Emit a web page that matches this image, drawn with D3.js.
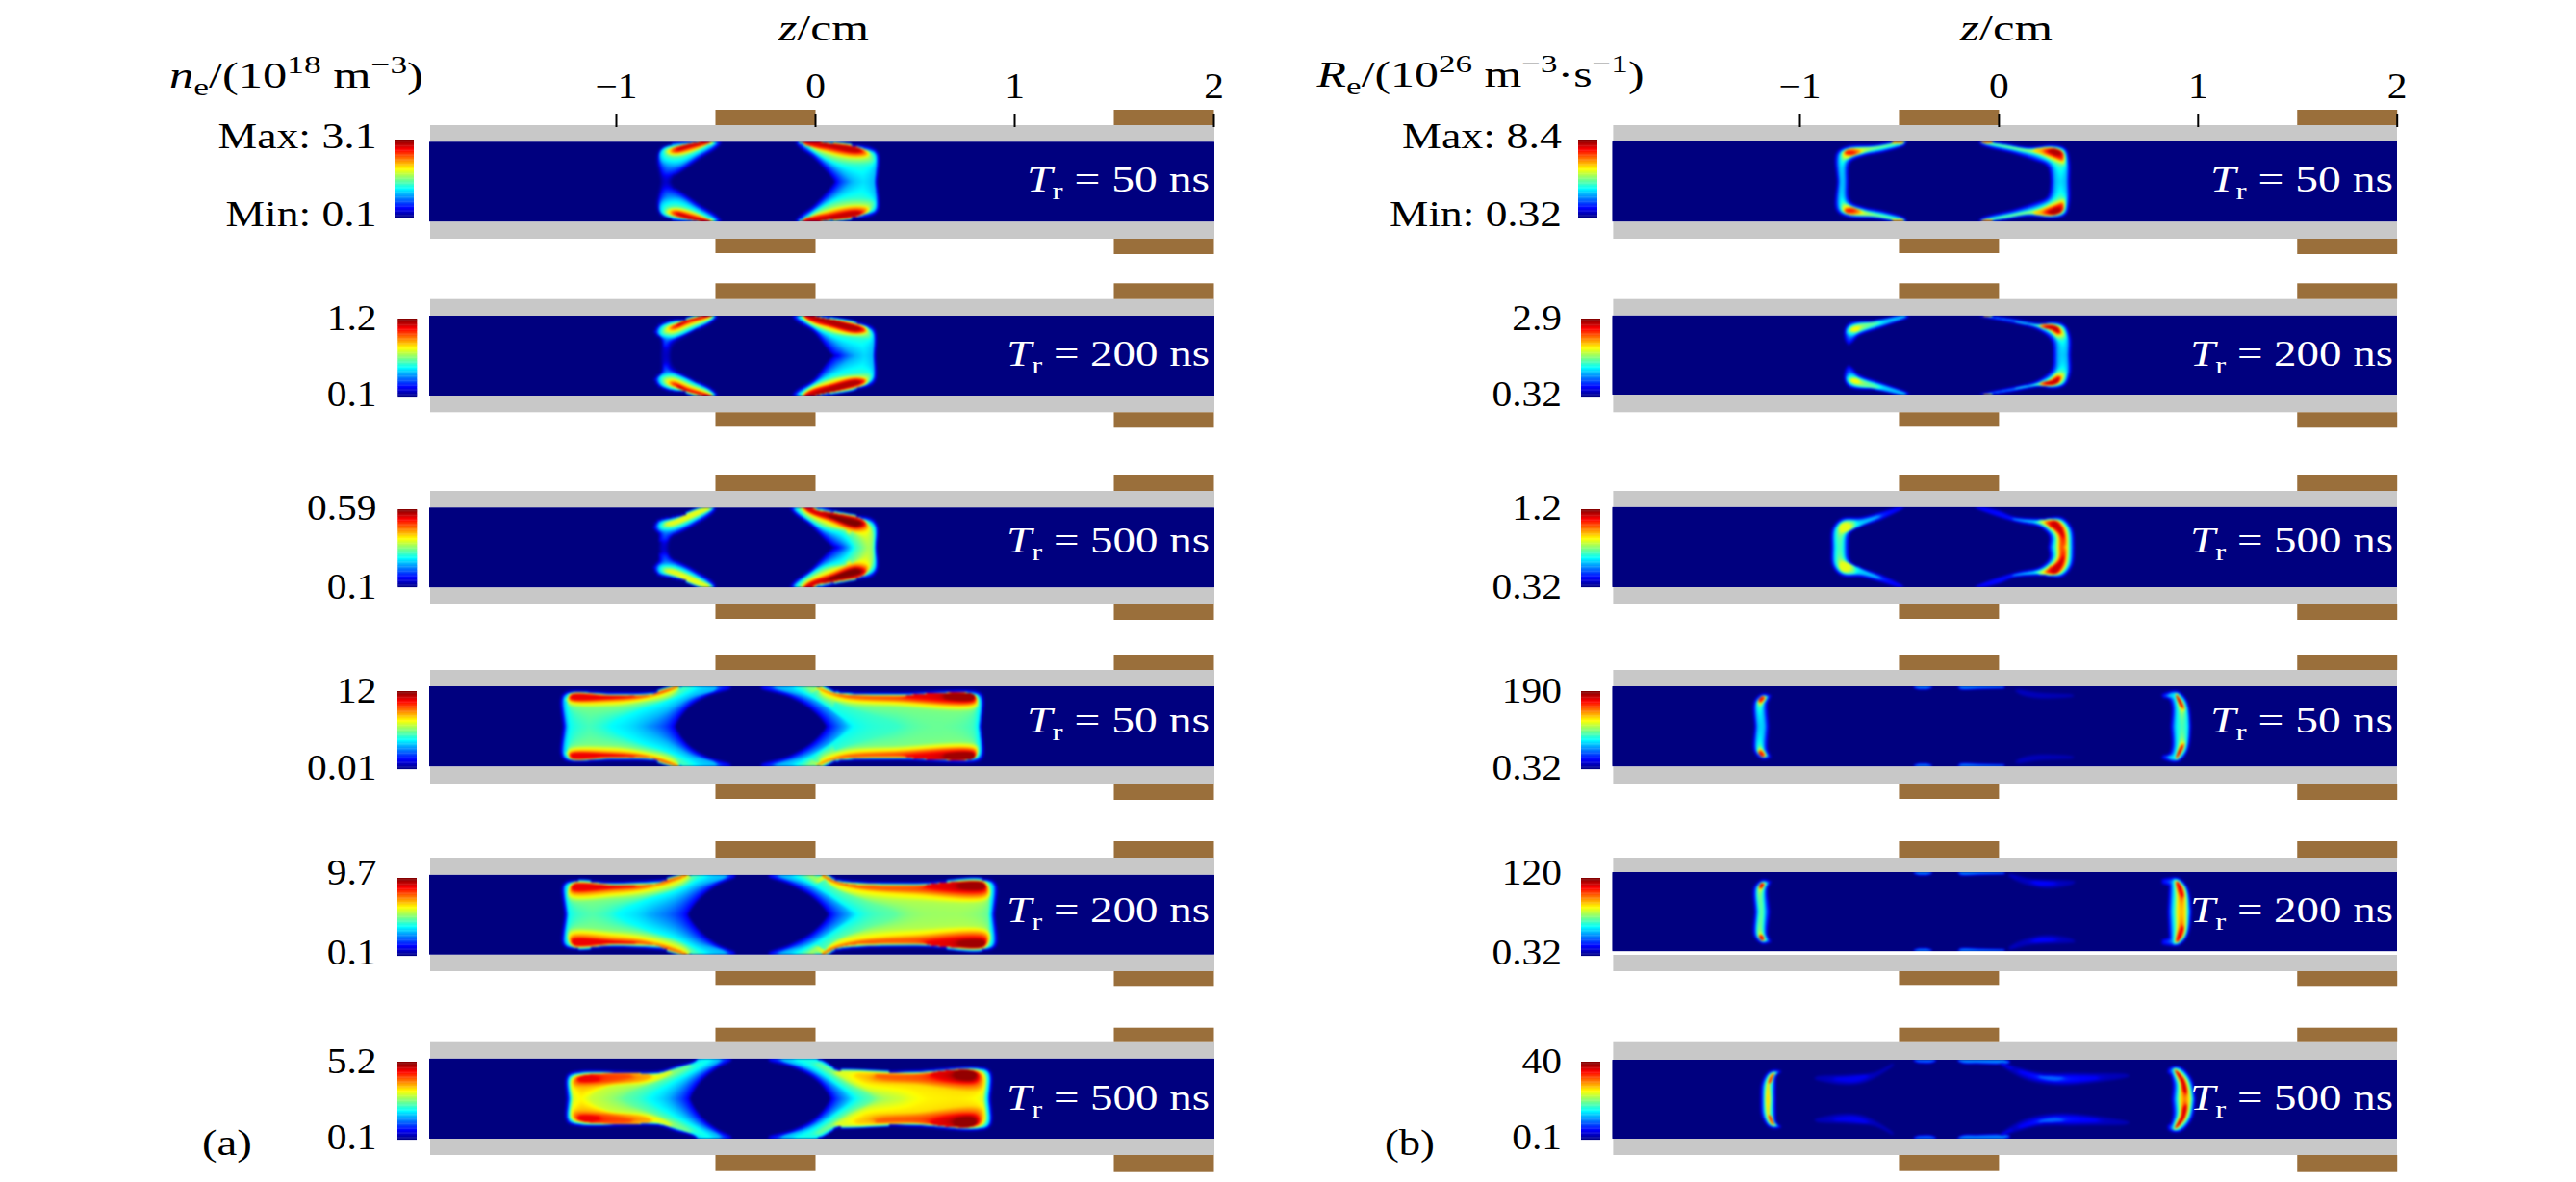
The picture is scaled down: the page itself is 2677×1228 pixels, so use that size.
<!DOCTYPE html>
<html><head><meta charset="utf-8">
<script src="https://cdnjs.cloudflare.com/ajax/libs/d3/7.8.5/d3.min.js"></script>
<style>html,body{margin:0;padding:0;background:#fff}svg{display:block}text{font-family:"Liberation Serif",serif;}</style>
</head><body><svg id="c" width="2677" height="1228"></svg>
<script>
// ---- labels
const zTicks=[-1,0,1,2];
const riseTimes=[50,200,500,50,200,500];
const neMax=["3.1","1.2","0.59","12","9.7","5.2"];
const neMin=["0.1","0.1","0.1","0.01","0.1","0.1"];
const reMax=["8.4","2.9","1.2","190","120","40"];
const reMin=["0.32","0.32","0.32","0.32","0.32","0.1"];
const coilZ=[[-0.5,0],[1.5,2]];
const jetStops=["#00007f","#0000ff","#007fff","#00ffff","#7fff7f","#ffff00","#ff7f00","#ff0000","#7f0000"];
// ---- normalised field contours, [level,[[z(cm),r(0 wall..0.5 axis)],...]], upper half, lower half mirrors it
const ne1=[
[.05,[[-.477,0],[-.6,.2],[-.7,.38],[-.735,.52],[-.765,.52],[-.79,.2],[-.77,.08],[-.66,.03],[-.53,0]]],
[.12,[[-.477,0],[-.581,.19],[-.678,.355],[-.725,.42],[-.76,.42],[-.787,.19],[-.767,.08],[-.662,.03],[-.533,0]]],
[.12,[[-.09,0],[0,.19],[.079,.395],[.111,.52],[.305,.52],[.312,.15],[.28,.09],[.127,.04],[0,0]]],
[.3,[[-.493,0],[-.597,.17],[-.694,.29],[-.767,.25],[-.778,.13],[-.742,.06],[-.63,.02]]],
[.3,[[-.066,.01],[.047,.23],[.143,.395],[.19,.52],[.298,.52],[.304,.15],[.272,.11],[.127,.05],[.014,.01]]],
[.42,[[-.042,.03],[.079,.23],[.208,.29],[.296,.25],[.288,.15],[.256,.105],[.127,.04],[0,0]]],
[.45,[[-.525,.01],[-.622,.145],[-.702,.19],[-.75,.16],[-.755,.105],[-.71,.065],[-.597,.01],[-.525,-.01]]],
[.55,[[-.05,0],[.079,.16],[.208,.21],[.272,.185],[.272,.13],[.224,.08],[.095,.03],[-.01,0]]],
[.65,[[-.517,0],[-.614,.105],[-.702,.15],[-.734,.13],[-.726,.09],[-.597,.01]]],
[.68,[[-.05,0],[.079,.13],[.208,.185],[.264,.16],[.248,.105],[.127,.04],[-.01,0]]],
[.8,[[-.517,0],[-.622,.08],[-.702,.13],[-.718,.11],[-.702,.08],[-.589,.01]]],
[.8,[[-.066,0],[.079,.10],[.208,.15],[.248,.13],[.224,.08],[.095,.025],[-.018,0]]],
[.92,[[-.525,0],[-.63,.065],[-.694,.105],[-.686,.08],[-.573,.01]]],
[.93,[[-.05,0],[.079,.07],[.208,.13],[.232,.11],[.208,.08],[.079,.025]]]];
const ne2=[
[.05,[[-.493,0],[-.62,.2],[-.72,.36],[-.735,.52],[-.765,.52],[-.77,.29],[-.80,.21],[-.783,.13],[-.726,.07],[-.533,0]]],
[.12,[[-.493,0],[-.614,.19],[-.726,.33],[-.74,.39],[-.762,.39],[-.767,.29],[-.80,.21],[-.783,.13],[-.726,.07],[-.533,0]]],
[.12,[[-.106,0],[0,.19],[.095,.475],[.127,.52],[.296,.52],[.296,.19],[.264,.13],[.127,.07],[.014,0]]],
[.3,[[-.501,0],[-.614,.17],[-.726,.28],[-.783,.235],[-.778,.145],[-.726,.08],[-.581,0]]],
[.3,[[-.09,0],[.03,.21],[.143,.395],[.21,.52],[.291,.52],[.291,.21],[.256,.145],[.127,.07],[.014,.01]]],
[.42,[[-.074,0],[.063,.21],[.192,.27],[.28,.27],[.272,.17],[.224,.11],[.095,.05],[.006,0]]],
[.45,[[-.509,0],[-.622,.145],[-.726,.245],[-.767,.21],[-.758,.145],[-.702,.09],[-.565,0]]],
[.55,[[-.066,0],[.079,.19],[.208,.24],[.264,.21],[.256,.15],[.192,.09],[.079,.04],[0,0]]],
[.65,[[-.517,0],[-.63,.11],[-.718,.19],[-.742,.16],[-.702,.105],[-.581,.01]]],
[.7,[[-.058,0],[.095,.16],[.208,.225],[.259,.19],[.232,.13],[.127,.065],[0,0]]],
[.8,[[-.517,0],[-.63,.08],[-.71,.16],[-.723,.145],[-.686,.105],[-.573,.01]]],
[.83,[[-.058,0],[.095,.145],[.208,.205],[.253,.18],[.216,.13],[.095,.05],[-.01,0]]],
[.92,[[-.525,0],[-.63,.055],[-.694,.13],[-.694,.11],[-.565,.01]]],
[.95,[[-.034,0],[.111,.13],[.208,.185],[.232,.16],[.159,.105],[.063,.04]]]];
const ne3=[
[.05,[[-.501,0],[-.63,.22],[-.73,.38],[-.745,.52],[-.775,.52],[-.775,.33],[-.804,.25],[-.788,.17],[-.726,.13],[-.614,.07],[-.525,0]]],
[.12,[[-.501,0],[-.614,.21],[-.726,.36],[-.742,.42],[-.775,.42],[-.775,.33],[-.804,.25],[-.788,.17],[-.726,.13],[-.614,.07],[-.525,0]]],
[.12,[[-.118,0],[-.018,.21],[.095,.475],[.127,.52],[.304,.52],[.308,.23],[.28,.15],[.159,.105],[.014,0]]],
[.3,[[-.509,0],[-.622,.19],[-.726,.29],[-.783,.27],[-.783,.19],[-.726,.145],[-.597,.065]]],
[.3,[[-.106,0],[.006,.23],[.127,.395],[.176,.52],[.301,.52],[.301,.23],[.264,.16],[.159,.11],[.006,.01]]],
[.42,[[-.09,0],[.047,.25],[.143,.31],[.208,.52],[.296,.52],[.291,.25],[.256,.16],[.143,.105],[0,0]]],
[.45,[[-.509,0],[-.63,.16],[-.726,.25],[-.767,.24],[-.758,.185],[-.702,.145],[-.581,.04]]],
[.52,[[-.074,0],[.063,.23],[.192,.31],[.256,.52],[.285,.52],[.285,.29],[.256,.185],[.143,.11],[-.01,0]]],
[.6,[[-.525,0],[-.638,.145],[-.726,.22],[-.746,.205],[-.71,.16],[-.581,.025]]],
[.65,[[-.066,0],[.079,.19],[.208,.31],[.269,.27],[.259,.19],[.208,.13],[.095,.065],[-.01,0]]],
[.78,[[-.058,0],[.087,.17],[.208,.27],[.259,.225],[.24,.15],[.143,.09],[-.018,0]]],
[.9,[[-.05,0],[.095,.15],[.208,.25],[.25,.205],[.216,.145],[.095,.07],[-.018,0]]],
[1,[[.063,.105],[.208,.225],[.232,.19],[.192,.16]]]];
const ne4=[
[.12,[[-.428,0],[-.67,0],[-.79,.075],[-1.02,.09],[-1.245,.085],[-1.268,.14],[-1.258,.52],[-.715,.52],[-.65,.27],[-.55,.11],[-.428,.01]]],
[.12,[[-.267,0],[.01,0],[.1,.07],[.4,.095],[.82,.085],[.838,.14],[.828,.52],[.07,.52],[0,.3],[-.12,.12],[-.267,.01]]],
[.3,[[-.5,0],[-.67,0],[-.79,.08],[-1.02,.095],[-1.24,.09],[-1.26,.14],[-1.245,.52],[-.87,.52],[-.74,.3],[-.62,.13],[-.5,.04]]],
[.3,[[-.2,0],[.01,0],[.1,.07],[.4,.1],[.8,.09],[.83,.14],[.825,.52],[.16,.52],[.08,.3],[-.05,.12],[-.18,.03]]],
[.38,[[-.6,0],[-.67,0],[-.79,.085],[-1.02,.1],[-1.235,.095],[-1.245,.2],[-1.23,.52],[-1.04,.52],[-.9,.32],[-.76,.2],[-.66,.1]]],
[.38,[[-.1,0],[.02,.01],[.1,.075],[.4,.105],[.8,.095],[.822,.14],[.815,.52],[.2,.52],[.1,.32],[0,.15]]],
[.43,[[.02,.05],[.1,.08],[.4,.11],[.8,.1],[.815,.14],[.795,.52],[.43,.52],[.28,.36],[.12,.22]]],
[.5,[[-.68,.01],[-.79,.09],[-1.02,.105],[-1.235,.1],[-1.24,.22],[-1.03,.26],[-.85,.2],[-.72,.12]]],
[.5,[[.02,0],[.1,.08],[.4,.11],[.8,.1],[.815,.14],[.81,.27],[.4,.26],[.15,.22],[.03,.12]]],
[.65,[[-.68,0],[-.8,.095],[-1.02,.11],[-1.23,.1],[-1.235,.18],[-1.03,.2],[-.85,.15],[-.74,.07]]],
[.65,[[0,0],[.1,.085],[.4,.115],[.8,.105],[.81,.14],[.81,.22],[.4,.2],[.15,.16],[.05,.08]]],
[.78,[[-.68,0],[-.8,.1],[-1.02,.115],[-1.225,.105],[-1.235,.16],[-1.03,.165],[-.85,.125],[-.76,.05]]],
[.78,[[0,0],[.1,.09],[.4,.12],[.8,.105],[.805,.19],[.4,.165],[.15,.125],[.05,.05]]],
[.89,[[-1.225,.11],[-1.03,.125],[-.9,.115],[-1.03,.15],[-1.225,.15]]],
[.89,[[.45,.118],[.8,.105],[.8,.17],[.55,.15]]],
[.97,[[.65,.11],[.8,.105],[.8,.16],[.65,.145]]]];
const ne5=[
[.12,[[-.405,0],[-.62,0],[-.72,.06],[-1,.105],[-1.24,.095],[-1.262,.14],[-1.25,.52],[-.65,.52],[-.58,.27],[-.5,.12],[-.405,.01]]],
[.12,[[-.229,0],[.02,0],[.13,.075],[.5,.11],[.88,.08],[.905,.13],[.895,.52],[.08,.52],[0,.28],[-.12,.11],[-.229,.01]]],
[.3,[[-.45,0],[-.62,0],[-.72,.07],[-1,.11],[-1.235,.1],[-1.255,.14],[-1.24,.52],[-.84,.52],[-.7,.3],[-.58,.13],[-.45,.03]]],
[.3,[[-.18,0],[.02,0],[.13,.08],[.5,.115],[.875,.085],[.895,.13],[.885,.52],[.18,.52],[.08,.3],[-.04,.12],[-.16,.03]]],
[.38,[[-.55,0],[-.62,0],[-.73,.08],[-1,.115],[-1.23,.105],[-1.245,.2],[-1.235,.52],[-1,.52],[-.86,.33],[-.7,.2],[-.6,.08]]],
[.38,[[-.1,0],[.03,.01],[.13,.085],[.5,.12],[.87,.09],[.885,.13],[.875,.52],[.22,.52],[.12,.33],[.01,.15]]],
[.47,[[.05,.06],[.13,.09],[.5,.125],[.865,.095],[.875,.3],[.87,.52],[.42,.52],[.25,.33],[.1,.17]]],
[.5,[[-.62,.01],[-.74,.09],[-1,.12],[-1.225,.11],[-1.235,.3],[-1,.3],[-.82,.24],[-.66,.11]]],
[.55,[[.05,.03],[.13,.095],[.5,.13],[.86,.1],[.87,.3],[.5,.33],[.2,.25],[.08,.13]]],
[.63,[[-.63,0],[-.75,.1],[-1,.13],[-1.22,.115],[-1.23,.25],[-1,.24],[-.85,.19],[-.7,.09]]],
[.65,[[.04,0],[.13,.1],[.5,.135],[.855,.1],[.865,.27],[.5,.25],[.2,.18],[.07,.08]]],
[.78,[[-.64,0],[-.76,.105],[-1,.135],[-1.215,.12],[-1.225,.2],[-1,.18],[-.85,.15],[-.72,.05]]],
[.78,[[.03,0],[.14,.105],[.5,.14],[.85,.1],[.86,.22],[.5,.2],[.2,.15],[.06,.05]]],
[.89,[[-1.215,.125],[-1,.14],[-.9,.14],[-1,.165],[-1.22,.18]]],
[.89,[[.55,.135],[.85,.105],[.855,.185],[.6,.17]]],
[.97,[[.72,.12],[.85,.105],[.85,.165],[.72,.155]]]];
const ne6=[
[.12,[[-.425,0],[-.585,0],[-.7,.11],[-.787,.175],[-1.19,.175],[-1.24,.22],[-1.24,.52],[-.64,.52],[-.58,.27],[-.5,.11],[-.425,.01]]],
[.12,[[-.229,0],[.01,0],[.126,.155],[.5,.165],[.81,.12],[.875,.17],[.875,.52],[.09,.52],[.02,.27],[-.1,.1],[-.229,.01]]],
[.3,[[-.48,0],[-.585,0],[-.7,.12],[-.79,.18],[-1.18,.18],[-1.235,.23],[-1.23,.52],[-.74,.52],[-.66,.3],[-.56,.13],[-.48,.03]]],
[.3,[[-.17,0],[.01,0],[.126,.16],[.5,.17],[.81,.125],[.87,.17],[.868,.52],[.17,.52],[.08,.3],[-.04,.12],[-.16,.03]]],
[.38,[[-.53,.02],[-.7,.125],[-.79,.185],[-1.17,.185],[-1.23,.24],[-1.225,.52],[-.84,.52],[-.72,.3],[-.6,.14]]],
[.38,[[-.1,0],[.02,.03],[.126,.165],[.5,.175],[.8,.13],[.862,.18],[.86,.52],[.21,.52],[.1,.3],[.01,.14]]],
[.47,[[-.62,.07],[-.7,.13],[-.79,.19],[-1.16,.19],[-1.225,.24],[-1.22,.52],[-.97,.52],[-.8,.3],[-.68,.18]]],
[.47,[[.01,.06],[.13,.17],[.5,.18],[.795,.135],[.855,.19],[.85,.52],[.3,.52],[.17,.33],[.07,.17]]],
[.58,[[-.72,.15],[-.8,.2],[-1.15,.195],[-1.22,.25],[-1.215,.52],[-1.14,.52],[-1.05,.36],[-.85,.3],[-.75,.22]]],
[.58,[[.1,.17],[.5,.185],[.79,.14],[.85,.2],[.845,.52],[.45,.52],[.25,.37],[.14,.23]]],
[.66,[[.2,.2],[.5,.19],[.785,.14],[.84,.2],[.835,.38],[.5,.33],[.25,.28]]],
[.7,[[-.82,.21],[-1.14,.2],[-1.21,.25],[-1.21,.33],[-1,.31],[-.85,.26]]],
[.78,[[.3,.21],[.5,.2],[.78,.14],[.83,.2],[.82,.31],[.5,.27],[.33,.24]]],
[.8,[[-.92,.215],[-1.14,.2],[-1.2,.25],[-1.195,.29],[-1,.27]]],
[.89,[[-1.14,.205],[-1.19,.25],[-1.18,.28],[-1.08,.26]]],
[.89,[[.58,.19],[.78,.145],[.82,.2],[.81,.28],[.62,.245]]],
[.98,[[.7,.175],[.78,.15],[.81,.2],[.79,.26],[.7,.23]]]];
const re1=[
[.12,[[-.47,0],[-.62,.05],[-.76,.07],[-.81,.15],[-.805,.52],[-.76,.52],[-.75,.25],[-.68,.17],[-.58,.12],[-.47,.03]]],
[.12,[[-.09,0],[.02,.03],[.15,.08],[.28,.055],[.335,.1],[.352,.25],[.352,.52],[.268,.52],[.25,.3],[.18,.22],[.08,.14],[-.09,.025]]],
[.3,[[-.47,0],[-.62,.06],[-.75,.085],[-.795,.14],[-.795,.52],[-.775,.52],[-.765,.24],[-.68,.15],[-.58,.1],[-.47,.02]]],
[.3,[[-.09,0],[.03,.04],[.15,.09],[.27,.065],[.33,.11],[.342,.25],[.338,.52],[.285,.52],[.27,.29],[.2,.19],[.1,.12],[-.08,.02]]],
[.5,[[-.47,0],[-.60,.065],[-.74,.095],[-.785,.14],[-.78,.22],[-.72,.17],[-.62,.09],[-.5,.02]]],
[.5,[[-.07,.01],[.05,.065],[.17,.105],[.27,.075],[.325,.13],[.33,.28],[.285,.25],[.21,.16],[.1,.1]]],
[.65,[[.17,.11],[.27,.08],[.32,.13],[.325,.25],[.28,.21],[.22,.16]]],
[.68,[[-.70,.1],[-.76,.1],[-.78,.15],[-.75,.18],[-.69,.135]]],
[.72,[[-.47,0],[-.50,.02],[-.54,.015],[-.52,0]]],
[.75,[[-.09,0],[-.07,.02],[-.03,.015],[-.03,0]]],
[.8,[[.225,.115],[.28,.085],[.32,.13],[.325,.22],[.27,.18]]],
[.85,[[-.755,.12],[-.77,.135],[-.75,.16],[-.72,.14]]],
[.95,[[.25,.11],[.3,.11],[.315,.16],[.28,.16]]]];
const re2=[
[.12,[[-.45,0],[-.59,.07],[-.75,.11],[-.77,.21],[-.755,.35],[-.74,.33],[-.71,.25],[-.58,.13],[-.465,.025]]],
[.12,[[-.085,0],[.066,.05],[.21,.11],[.275,.09],[.33,.13],[.356,.27],[.356,.52],[.28,.52],[.27,.31],[.2,.17],[.1,.1],[-.063,.015]]],
[.3,[[-.46,0],[-.6,.07],[-.74,.12],[-.765,.2],[-.745,.26],[-.69,.2],[-.58,.115],[-.47,.02]]],
[.3,[[-.08,0],[.05,.055],[.2,.115],[.27,.1],[.325,.14],[.345,.27],[.342,.52],[.3,.52],[.29,.3],[.22,.17],[.1,.08]]],
[.45,[[-.6,.09],[-.73,.13],[-.755,.19],[-.73,.22],[-.68,.18]]],
[.45,[[.08,.075],[.2,.125],[.27,.11],[.32,.155],[.335,.27],[.305,.3],[.24,.17]]],
[.62,[[-.7,.15],[-.735,.16],[-.74,.19],[-.71,.19]]],
[.62,[[.2,.13],[.27,.115],[.31,.16],[.32,.25],[.28,.2]]],
[.65,[[-.08,0],[-.06,.01],[-.03,.005],[-.04,0]]],
[.78,[[.21,.14],[.265,.12],[.305,.16],[.31,.24],[.27,.19]]],
[.92,[[.235,.145],[.27,.13],[.30,.16],[.30,.21],[.27,.17]]]];
const re3=[
[.12,[[-.48,0],[-.594,.08],[-.69,.14],[-.787,.155],[-.83,.27],[-.835,.52],[-.76,.52],[-.75,.32],[-.70,.24],[-.6,.15],[-.5,.03]]],
[.12,[[-.11,0],[0,.06],[.07,.13],[.21,.155],[.316,.14],[.365,.27],[.375,.52],[.255,.52],[.26,.36],[.21,.24],[.1,.18],[-.03,.08]]],
[.3,[[-.6,.115],[-.69,.165],[-.78,.17],[-.82,.27],[-.825,.52],[-.775,.52],[-.765,.33],[-.7,.24]]],
[.3,[[.07,.15],[.21,.17],[.31,.155],[.355,.27],[.365,.52],[.27,.52],[.275,.36],[.22,.23],[.12,.17]]],
[.42,[[-.72,.18],[-.78,.18],[-.81,.27],[-.81,.52],[-.785,.52],[-.775,.34],[-.72,.25]]],
[.45,[[.19,.18],[.30,.16],[.345,.27],[.355,.52],[.285,.52],[.285,.36],[.23,.23]]],
[.6,[[-.76,.2],[-.795,.22],[-.795,.3],[-.77,.31],[-.74,.25]]],
[.62,[[.22,.19],[.295,.165],[.335,.27],[.345,.52],[.30,.52],[.295,.34],[.25,.23]]],
[.78,[[.235,.19],[.29,.17],[.325,.27],[.335,.45],[.32,.52],[.31,.52],[.305,.35],[.25,.23]]],
[.92,[[.26,.2],[.285,.175],[.315,.27],[.325,.37],[.305,.3]]]];
const re4=[
[.05,[[.09,.05],[.2,.09],[.37,.115],[.2,.135],[.11,.09]]],
[.25,[[-.2,0],[-.19,.02],[-.1,.015],[.03,.005],[0,0]]],
[.25,[[-.42,0],[-.38,.02],[-.34,0]]],
[.12,[[-1.18,.10],[-1.15,.12],[-1.165,.2],[-1.16,.52],[-1.22,.52],[-1.225,.2],[-1.2,.12]]],
[.12,[[.87,.07],[.9,.07],[.945,.2],[.962,.52],[.87,.52],[.875,.25],[.86,.15],[.83,.13],[.82,.12]]],
[.3,[[-1.18,.11],[-1.16,.13],[-1.18,.22],[-1.175,.52],[-1.21,.52],[-1.215,.2],[-1.195,.13]]],
[.3,[[.87,.085],[.9,.085],[.94,.2],[.955,.52],[.885,.52],[.888,.25],[.875,.14],[.85,.12]]],
[.4,[[.885,.09],[.93,.2],[.945,.52],[.9,.52],[.9,.27],[.89,.14]]],
[.6,[[-1.185,.115],[-1.17,.135],[-1.195,.22],[-1.208,.2]]],
[.65,[[.89,.09],[.925,.2],[.935,.3],[.92,.28],[.895,.15]]],
[.85,[[-1.185,.125],[-1.178,.14],[-1.198,.19],[-1.205,.17]]],
[.9,[[.89,.1],[.915,.2],[.925,.27],[.915,.24],[.895,.14]]]];
const re5=[
[.05,[[.05,.03],[.15,.09],[.38,.13],[.25,.19],[.12,.13]]],
[.12,[[.17,.12],[.28,.14],[.2,.16]]],
[.25,[[-.2,0],[-.19,.02],[-.1,.015],[.03,.005],[0,0]]],
[.25,[[-.42,0],[-.38,.02],[-.34,0]]],
[.12,[[-1.19,.105],[-1.15,.125],[-1.165,.2],[-1.155,.52],[-1.22,.52],[-1.225,.2],[-1.2,.125]]],
[.12,[[.87,.08],[.9,.08],[.945,.2],[.965,.52],[.855,.52],[.86,.25],[.86,.16],[.83,.14],[.82,.11]]],
[.3,[[-1.185,.115],[-1.16,.135],[-1.175,.22],[-1.172,.52],[-1.21,.52],[-1.215,.2],[-1.195,.13]]],
[.3,[[.875,.09],[.9,.09],[.94,.2],[.957,.52],[.87,.52],[.875,.25],[.875,.15]]],
[.45,[[-1.185,.125],[-1.17,.14],[-1.185,.22],[-1.182,.52],[-1.2,.52],[-1.21,.22],[-1.195,.14]]],
[.45,[[.885,.095],[.935,.2],[.947,.52],[.885,.52],[.888,.27],[.885,.15]]],
[.65,[[-1.19,.13],[-1.175,.15],[-1.192,.22],[-1.205,.2]]],
[.65,[[.89,.1],[.925,.2],[.937,.52],[.9,.52],[.9,.28],[.89,.15]]],
[.88,[[-1.19,.14],[-1.18,.155],[-1.195,.2],[-1.2,.18]]],
[.88,[[.895,.105],[.92,.2],[.93,.32],[.91,.26],[.895,.15]]]];
const re6=[
[.05,[[0,.03],[.1,.11],[.2,.17],[.4,.18],[.65,.2],[.5,.27],[.3,.31],[.15,.25],[.06,.14]]],
[.12,[[.1,.14],[.22,.2],[.4,.21],[.5,.23],[.35,.28],[.2,.25]]],
[.22,[[.2,.21],[.32,.23],[.28,.26]]],
[.05,[[-.53,.06],[-.62,.17],[-.75,.2],[-.92,.23],[-.8,.3],[-.68,.28],[-.58,.15]]],
[.11,[[-.66,.2],[-.75,.225],[-.82,.24],[-.72,.27]]],
[.25,[[-.2,0],[-.1,.03],[.05,.03],[.02,0]]],
[.22,[[-.42,0],[-.38,.025],[-.32,0]]],
[.12,[[-1.14,.145],[-1.1,.15],[-1.12,.2],[-1.125,.35],[-1.125,.52],[-1.19,.52],[-1.185,.3],[-1.16,.18]]],
[.12,[[.87,.1],[.91,.1],[.965,.25],[.985,.52],[.875,.52],[.88,.3],[.865,.17],[.85,.15]]],
[.3,[[-1.135,.155],[-1.11,.16],[-1.13,.22],[-1.135,.35],[-1.135,.52],[-1.18,.52],[-1.175,.3],[-1.155,.19]]],
[.3,[[.875,.11],[.905,.11],[.955,.25],[.977,.52],[.89,.52],[.895,.3],[.875,.16]]],
[.5,[[-1.135,.165],[-1.12,.17],[-1.145,.23],[-1.145,.52],[-1.172,.52],[-1.165,.3],[-1.15,.2]]],
[.5,[[.885,.115],[.945,.25],[.967,.52],[.905,.52],[.905,.3],[.885,.16]]],
[.65,[[-1.135,.17],[-1.125,.175],[-1.15,.25],[-1.152,.52],[-1.165,.52],[-1.158,.3],[-1.145,.2]]],
[.65,[[.885,.12],[.935,.25],[.957,.52],[.915,.52],[.915,.3],[.888,.16]]],
[.88,[[-1.13,.18],[-1.13,.185],[-1.15,.25],[-1.152,.3]]],
[.9,[[.885,.125],[.93,.25],[.945,.42],[.925,.38],[.92,.3],[.89,.15]]]];

// ---- layout (pixels)
const wallOuterTop=[130,310.7,510,696,891,1082.7];
const wallOuterBottom=[248,428.3,628,814,1009,1200];
const coilTopY=[114,294.3,493,681,874,1067.7];
const coilBottomY=[263,443.3,643,830,1023.3,1216.7];
const barTop=[145,331,529,718,912,1103];
const topLabelY=[154,343,540,730,918.7,1115];
const botLabelY=[234.7,422,622.3,810,1001.7,1194];
const trY=[199,380,574,761,957.7,1152.7];
const cols=[
 {fields:[ne1,ne2,ne3,ne4,ne5,ne6],max:neMax,min:neMin,range:[640,1261],wallL:447,wallR:1262,
  blueTop:[147.3,328,527.3,713,908.7,1099.7],blueBot:[230.3,411,610.3,796.3,991.7,1183],
  innerBot:[230.3,411,610.3,796.3,991.7,1183],barX:[410,413.3,413.3,413,413,413],labelR:391.5,trR:1257,fade:3,
  ztx:809,ztw:94,tag:"(a)",tagX:210,
  yw:[165,157],title:[["n","i"],["e","sub"],["/(10"],["18","sup"],[" m"],["−3","sup"],[")"]],titleX:176,titleW:264,titleY:90.7},
 {fields:[re1,re2,re3,re4,re5,re6],max:reMax,min:reMin,range:[1870,2490.7],wallL:1676.4,wallR:2491,
  blueTop:[147,327.7,526.7,713,906,1101],blueBot:[230.3,410,610,796.3,988.3,1183],
  innerBot:[230.3,410,610,796.3,992,1183],barX:[1640,1643,1643,1643,1643,1643],labelR:1623,trR:2487,fade:2.5,
  ztx:2037,ztw:96,tag:"(b)",tagX:1439,
  yw:[166,179],title:[["R","i"],["e","sub"],["/(10"],["26","sup"],[" m"],["−3","sup"],["·s"],["−1","sup"],[")"]],titleX:1368.6,titleW:340,titleY:90}
];
const FS=37, NUMX=1.12;
const svg=d3.select("#c");
const jet=d3.scaleLinear().domain(d3.range(jetStops.length).map(i=>i/(jetStops.length-1))).range(jetStops).clamp(true);
const lut=d3.range(256).map(i=>d3.rgb(jet(i/255)));
const defs=svg.append("defs");
defs.append("filter").attr("id","soft").attr("x","0").attr("y","0").attr("width","100%").attr("height","100%")
  .attr("color-interpolation-filters","sRGB").append("feGaussianBlur").attr("stdDeviation",0.8);

function rich(parent,x,y,anchor,segs,width,fill){
  const t=parent.append("text").attr("font-size",FS).attr("text-anchor",anchor).attr("fill",fill||"#000");
  let cur=0;
  segs.forEach(s=>{
    const st=s[1]||"";
    const target=st==="sub"?8:st==="sup"?-15:0;
    const ts=t.append("tspan").attr("dy",target-cur).text(s[0]);
    cur=target;
    if(st==="i")ts.attr("font-style","italic");
    if(st==="sub"||st==="sup")ts.attr("font-size",26);
  });
  const len=t.node().getComputedTextLength();
  const sx=width?width/len:NUMX;
  t.attr("transform",`translate(${x},${y}) scale(${sx},1)`);
  return t;
}

// a contour that runs along the wall or crosses the axis continues beyond it,
// so the closed curve stays straight where the panel cuts it
function extend(pts){
  const out=[];
  pts.forEach((p,i)=>{
    const q=pts[(i+1)%pts.length];
    out.push(p);
    if(p[1]>=.5&&q[1]>=.5){out.push([p[0],.8],[q[0],.8]);}
    else if(p[1]<=.003&&q[1]<=.003){out.push([p[0],-.3],[q[0],-.3]);}
  });
  return out;
}

// Turns the contours of one panel into a colour image: each pixel takes the
// level between the contour enclosing it and the nearest higher contour.
function rasterise(levels,zs,rs,x0,y0,W,H,fade){
  const tmp=svg.append("path").attr("fill","none");
  const line=d3.line().x(d=>zs(d[0])).y(d=>rs(d[1])).curve(d3.curveCatmullRomClosed.alpha(0.5));
  const yWall=rs(0.006), yAxis=rs(0.5);
  const polys=levels.slice().sort((a,b)=>a[0]-b[0]).map(l=>{
    tmp.attr("d",line(extend(l[1])));
    const n=tmp.node(),T=n.getTotalLength(),k=Math.max(8,Math.ceil(T/4));
    const pts=d3.range(k).map(i=>{const p=n.getPointAtLength(i/k*T);return [p.x,p.y];});
    const segs=[];
    pts.forEach((p,i)=>{const q=pts[(i+1)%k];
      if(p[1]<yWall&&q[1]<yWall)return;
      if(p[1]>yAxis&&q[1]>yAxis)return;
      segs.push(p[0],p[1],q[0],q[1]);});
    return {v:l[0],pts,segs,minX:d3.min(pts,p=>p[0]),maxX:d3.max(pts,p=>p[0]),minY:d3.min(pts,p=>p[1]),maxY:d3.max(pts,p=>p[1])};
  });
  tmp.remove();
  const dist=(P,x,y,limit)=>{
    const bx=Math.max(P.minX-x,0,x-P.maxX),by=Math.max(P.minY-y,0,y-P.maxY);
    if(bx*bx+by*by>=limit)return limit;
    let m=limit;const s=P.segs;
    for(let i=0;i<s.length;i+=4){
      const ax=s[i],ay=s[i+1],dx=s[i+2]-ax,dy=s[i+3]-ay;
      const L=dx*dx+dy*dy;let t=L>0?((x-ax)*dx+(y-ay)*dy)/L:0;t=t<0?0:t>1?1:t;
      const ex=ax+t*dx-x,ey=ay+t*dy-y,d=ex*ex+ey*ey;
      if(d<m)m=d;
    }
    return m;
  };
  const cv=document.createElement("canvas");cv.width=W;cv.height=H;
  const ctx=cv.getContext("2d");const img=ctx.createImageData(W,H);
  const xs=[d3.min(polys,p=>p.minX)-fade-1,d3.max(polys,p=>p.maxX)+fade+1];
  const hh=Math.ceil(H/2);
  for(let j=0;j<hh;j++){
    const y=y0+j+0.5;
    for(let i=0;i<W;i++){
      const x=x0+i+0.5;let val=0;
      if(x>=xs[0]&&x<=xs[1]){
        let k=-1;
        for(let q=polys.length-1;q>=0;q--){const P=polys[q];
          if(x<P.minX||x>P.maxX||y<P.minY||y>P.maxY)continue;
          if(d3.polygonContains(P.pts,[x,y])){k=q;break;}}
        if(k<0){
          let m=fade*fade,v=0;
          polys.forEach(P=>{const d=dist(P,x,y,m);if(d<m){m=d;v=P.v;}});
          if(v>0)val=v*(1-Math.sqrt(m)/fade);
        }else{
          const P=polys[k];
          let m=2500,nv=-1;
          for(let q=k+1;q<polys.length;q++){
            if(polys[q].v<=P.v)continue;
            const d=dist(polys[q],x,y,m);if(d<m){m=d;nv=polys[q].v;}
          }
          if(nv<0)val=P.v;
          else{const di=Math.sqrt(dist(P,x,y,2500)),dn=Math.sqrt(m);val=P.v+(nv-P.v)*di/(di+dn+1e-6);}
        }
      }
      const c=lut[Math.round(val*255)];
      for(const row of [j,H-1-j]){
        const o=(row*W+i)*4;img.data[o]=c.r;img.data[o+1]=c.g;img.data[o+2]=c.b;img.data[o+3]=255;
      }
    }
  }
  ctx.putImageData(img,0,0);
  return cv.toDataURL();
}

cols.forEach((col,ci)=>{
  const zs=d3.scaleLinear().domain([-1,2]).range(col.range);
  const g=svg.append("g");
  riseTimes.forEach((tr,pi)=>{
    const top=col.blueTop[pi],bot=col.blueBot[pi];
    const rs=d3.scaleLinear().domain([0,1]).range([top,bot]);
    const wx=col.wallL,ww=col.wallR-col.wallL;
    g.append("rect").attr("x",wx).attr("width",ww).attr("y",wallOuterTop[pi]).attr("height",top-wallOuterTop[pi]).attr("fill","#c8c8c8");
    g.append("rect").attr("x",wx).attr("width",ww).attr("y",col.innerBot[pi]).attr("height",wallOuterBottom[pi]-col.innerBot[pi]).attr("fill","#c8c8c8");
    coilZ.forEach(c=>{
      const x=zs(c[0]),w=zs(c[1])-zs(c[0])+0.5;
      g.append("rect").attr("x",x).attr("width",w).attr("y",coilTopY[pi]).attr("height",wallOuterTop[pi]-coilTopY[pi]).attr("fill","#9a6f3b");
      g.append("rect").attr("x",x).attr("width",w).attr("y",wallOuterBottom[pi]).attr("height",coilBottomY[pi]-wallOuterBottom[pi]+(c[0]>0?1:0)).attr("fill","#9a6f3b");
    });
    const id=`clip${ci}_${pi}`;
    defs.append("clipPath").attr("id",id).append("rect").attr("x",wx-1).attr("width",ww+1).attr("y",top).attr("height",bot-top);
    const fg=g.append("g").attr("clip-path",`url(#${id})`);
    fg.append("rect").attr("x",wx-1).attr("width",ww+1).attr("y",top).attr("height",bot-top).attr("fill","#000080");
    const W=Math.round(ww+1),H=Math.round(bot-top);
    const href=rasterise(col.fields[pi],zs,rs,wx-1,top,W,H,col.fade);
    fg.append("image").attr("x",wx-1).attr("y",top).attr("width",W).attr("height",bot-top).attr("preserveAspectRatio","none")
      .attr("href",href).attr("filter","url(#soft)");
    const by=d3.scaleLinear().domain([0,1]).range([barTop[pi]+80.7,barTop[pi]]);
    const steps=d3.range(0,64).map(i=>i/64);
    g.append("g").selectAll("rect").data(steps).join("rect")
      .attr("x",col.barX[pi]).attr("width",20).attr("y",d=>by(d+1/64)).attr("height",80.7/64+0.4).attr("fill",d=>jet(d+1/128));
    const mx=pi===0?"Max: "+col.max[pi]:col.max[pi], mn=pi===0?"Min: "+col.min[pi]:col.min[pi];
    rich(g,col.labelR,topLabelY[pi],"end",[[mx]],pi===0?col.yw[0]:null);
    rich(g,col.labelR,botLabelY[pi],"end",[[mn]],pi===0?col.yw[1]:null);
    rich(g,col.trR,trY[pi],"end",[["T","i"],["r","sub"],[" = "+tr+" ns"]],tr===50?190:211,"#fff");
  });
  const ax=d3.axisTop(zs).tickValues(zTicks).tickSize(14).tickPadding(16).tickFormat(d=>d<0?"−"+Math.abs(d):d);
  const ag=svg.append("g").attr("transform","translate(0,132)").call(ax);
  ag.select(".domain").remove();
  ag.selectAll("line").attr("stroke","#000").attr("stroke-width",2);
  ag.selectAll("text").attr("font-size",FS).attr("fill","#000").attr("font-family","Liberation Serif").attr("transform",`scale(${NUMX},1)`);
  rich(svg,col.ztx,41.7,"start",[["z","i"],["/cm"]],col.ztw);
  rich(svg,col.titleX,col.titleY,"start",col.title,col.titleW);
  rich(svg,col.tagX,1200,"start",[[col.tag]],52);
});
</script></body></html>
